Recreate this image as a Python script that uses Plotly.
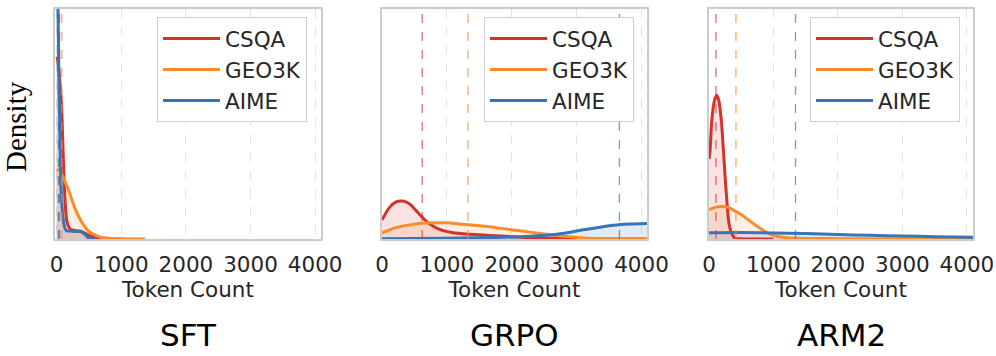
import plotly.graph_objects as go
from plotly.subplots import make_subplots

# ---- data (token count vs density, density in units of 1e-3) ----
methods = ['SFT', 'GRPO', 'ARM2']
datasets = ['CSQA', 'GEO3K', 'AIME']
colors = {'CSQA': '#d6322b', 'GEO3K': '#fd8b2e', 'AIME': '#3576b6'}
fills = {'CSQA': 'rgba(214,50,43,0.14)', 'GEO3K': 'rgba(253,139,46,0.14)', 'AIME': 'rgba(53,118,182,0.14)'}
dashcolors = {'CSQA': 'rgba(214,50,43,0.7)', 'GEO3K': 'rgba(253,139,46,0.75)', 'AIME': 'rgba(53,118,182,0.7)'}

# SFT
sft_csqa_x = [0, 12, 54, 80, 105, 131, 158, 216, 320, 422, 525, 629, 800, 1000]
sft_csqa_y = [6.1, 6.05, 5.18, 4.29, 2.61, 1.27, 0.60, 0.32, 0.27, 0.21, 0.10, 0.025, 0.004, 0]
sft_geo_x = [0, 54, 105, 158, 209, 260, 312, 363, 415, 491, 569, 672, 801, 1000, 1370]
sft_geo_y = [2.33, 2.28, 2.05, 1.78, 1.50, 1.16, 0.88, 0.66, 0.47, 0.27, 0.16, 0.067, 0.023, 0.008, 0]
sft_aime_x = [0, 20, 35, 50, 70, 90, 105, 130, 160, 216, 280, 370, 450, 500, 600]
sft_aime_y = [9.5, 8.0, 5.5, 3.5, 1.6, 0.9, 0.6, 0.35, 0.27, 0.27, 0.25, 0.27, 0.12, 0.03, 0]

# GRPO
grpo_csqa_x = [0, 113, 217, 319, 423, 526, 628, 732, 887, 1093, 1351, 1661, 2022, 2280, 2539, 2790, 3200, 4085]
grpo_csqa_y = [0.64, 1.05, 1.24, 1.27, 1.18, 0.95, 0.71, 0.51, 0.32, 0.21, 0.16, 0.12, 0.077, 0.044, 0.027, 0.013, 0.003, 0]
grpo_geo_x = [0, 217, 474, 732, 990, 1247, 1505, 1763, 2022, 2280, 2539, 2796, 3054, 3312, 3570, 4085]
grpo_geo_y = [0.21, 0.38, 0.49, 0.54, 0.54, 0.49, 0.44, 0.38, 0.30, 0.23, 0.16, 0.09, 0.044, 0.017, 0.007, 0]
grpo_aime_x = [0, 990, 1500, 2022, 2280, 2539, 2796, 3054, 3312, 3570, 3828, 4085]
grpo_aime_y = [0.01, 0.027, 0.04, 0.067, 0.094, 0.124, 0.19, 0.29, 0.38, 0.46, 0.50, 0.52]

# ARM2
arm2_csqa_x = [0, 15, 42, 82, 119, 155, 197, 221, 248, 274, 299, 325, 361, 402, 454, 600, 1000]
arm2_csqa_y = [2.68, 2.93, 3.94, 4.61, 4.81, 4.61, 3.83, 3.04, 2.15, 1.37, 0.70, 0.36, 0.14, 0.027, 0.007, 0.002, 0]
arm2_geo_x = [0, 93, 197, 299, 402, 506, 609, 712, 816, 918, 1022, 1176, 1383, 1800, 2500, 4095]
arm2_geo_y = [0.98, 1.06, 1.09, 1.06, 0.94, 0.81, 0.64, 0.48, 0.33, 0.19, 0.11, 0.05, 0.027, 0.013, 0.007, 0.003]
arm2_aime_x = [0, 500, 1000, 1500, 2000, 2500, 3000, 3500, 4095]
arm2_aime_y = [0.21, 0.22, 0.20, 0.18, 0.15, 0.124, 0.10, 0.077, 0.057]

# dashed reference lines (mean token count)
sft_means = [45, 80, 28]
grpo_means = [620, 1325, 3660]
arm2_means = [108, 418, 1342]

curves = {
    'SFT': [(sft_csqa_x, sft_csqa_y), (sft_geo_x, sft_geo_y), (sft_aime_x, sft_aime_y)],
    'GRPO': [(grpo_csqa_x, grpo_csqa_y), (grpo_geo_x, grpo_geo_y), (grpo_aime_x, grpo_aime_y)],
    'ARM2': [(arm2_csqa_x, arm2_csqa_y), (arm2_geo_x, arm2_geo_y), (arm2_aime_x, arm2_aime_y)],
}
means = {'SFT': sft_means, 'GRPO': grpo_means, 'ARM2': arm2_means}
xranges = {'SFT': [-25, 4090], 'GRPO': [0, 4085], 'ARM2': [0, 4095]}
y_top = 7.7

W, H = 996, 356
xdom = [[55 / W, 321 / W], [382 / W, 647 / W], [709 / W, 973 / W]]
ydom = [(H - 239) / H, (H - 9) / H]
legend_x = [157 / W, 484 / W, 810 / W]

fig = make_subplots(rows=1, cols=3)

for i, m in enumerate(methods):
    lg = 'legend' if i == 0 else 'legend%d' % (i + 1)
    # shaded areas first (no legend entry)
    for j, d in enumerate(datasets):
        xs, ys = curves[m][j]
        fig.add_trace(go.Scatter(x=xs, y=ys, mode='lines', line=dict(width=0, shape='spline', smoothing=0.6),
                                 fill='tozeroy', fillcolor=fills[d], showlegend=False, hoverinfo='skip'),
                      row=1, col=i + 1)
    for j, d in enumerate(datasets):
        xs, ys = curves[m][j]
        fig.add_trace(go.Scatter(x=xs, y=ys, mode='lines', name=d,
                                 line=dict(color=colors[d], width=3, shape='spline', smoothing=0.6),
                                 legend=lg, legendgroup=m + d, hoverinfo='skip'), row=1, col=i + 1)
    for j, d in enumerate(datasets):
        fig.add_vline(x=means[m][j], line=dict(color=dashcolors[d], width=1.3, dash='dash'), row=1, col=i + 1)

    fig.update_xaxes(domain=xdom[i], range=xranges[m], tickvals=[0, 1000, 2000, 3000, 4000], automargin=False,
                     showgrid=True, gridcolor='#e4e4e4', griddash='dash', gridwidth=1, zeroline=False,
                     showline=True, mirror=True, linecolor='#cccccc', linewidth=2,
                     ticks='outside', ticklen=5, tickcolor='rgba(0,0,0,0)',
                     tickfont=dict(family='DejaVu Sans', size=21.5, color='#262626'),
                     title=dict(text='Token Count', font=dict(family='DejaVu Sans', size=21.5, color='#262626'), standoff=2),
                     row=1, col=i + 1)
    fig.update_yaxes(domain=ydom, range=[0, y_top], showticklabels=False, showgrid=False, zeroline=False,
                     showline=True, mirror=True, linecolor='#cccccc', linewidth=2, ticks='', automargin=False,
                     row=1, col=i + 1)

    fig.layout[lg] = dict(x=legend_x[i], y=(H - 17) / H, xanchor='left', yanchor='top',
                          bgcolor='white', bordercolor='#d0d0d0', borderwidth=1, tracegroupgap=0,
                          itemwidth=57,
                          font=dict(family='DejaVu Sans', size=21.5, color='#262626'))

    fig.add_annotation(text=m, x=(xdom[i][0] + xdom[i][1]) / 2, y=(H - 335) / H, xref='paper', yref='paper',
                       showarrow=False, xanchor='center', yanchor='middle',
                       font=dict(family='DejaVu Sans', size=31, color='black'))

fig.add_annotation(text='Density', x=16 / W, y=(H - 127) / H, xref='paper', yref='paper', textangle=-90,
                   showarrow=False, xanchor='center', yanchor='middle',
                   font=dict(family='Liberation Serif', size=29, color='black'))

fig.update_layout(width=W, height=H, margin=dict(l=0, r=0, t=0, b=0, autoexpand=False),
                  plot_bgcolor='white', paper_bgcolor='white', showlegend=True)

fig.write_html("out.html", config={'displayModeBar': False},
               post_script="document.body.style.margin='0';document.body.style.overflow='hidden';")
